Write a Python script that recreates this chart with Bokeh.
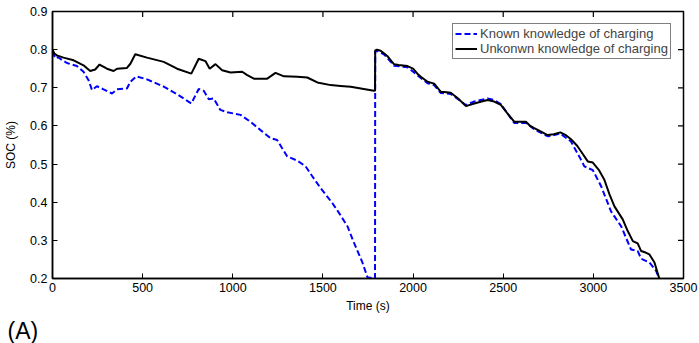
import math
from bokeh.plotting import figure
from bokeh.models import Range1d, FixedTicker, Legend, LegendItem, Title
from bokeh.embed import file_html
from bokeh.resources import INLINE

# ---- data ----
known_time = [0, 15, 30, 80, 135, 172, 200, 219, 246, 283, 330, 358, 413, 432, 465, 524,
              617, 691, 770, 811, 839, 867, 894, 931, 969, 1043, 1098, 1154, 1209, 1246,
              1302, 1358, 1404, 1441, 1487, 1552, 1589, 1636, 1672, 1719, 1747, 1789,
              1790, 1800, 1840, 1880, 1894, 1969, 2024, 2080, 2117, 2154, 2209, 2293,
              2340, 2413, 2450, 2487, 2561, 2626, 2672, 2746, 2765, 2817, 2876, 2932,
              2950, 2997, 3043, 3098, 3154, 3209, 3246, 3265, 3311, 3348, 3367]
known_soc = [0.795, 0.777, 0.780, 0.765, 0.757, 0.742, 0.720, 0.694, 0.704, 0.696, 0.685,
             0.696, 0.698, 0.716, 0.730, 0.722, 0.703, 0.683, 0.659, 0.697, 0.692, 0.670,
             0.672, 0.642, 0.636, 0.629, 0.611, 0.589, 0.568, 0.563, 0.520, 0.509, 0.494,
             0.468, 0.437, 0.398, 0.372, 0.337, 0.294, 0.242, 0.203, 0.200,
             0.795, 0.797, 0.787, 0.766, 0.758, 0.754, 0.733, 0.712, 0.707, 0.686, 0.684,
             0.655, 0.664, 0.672, 0.668, 0.657, 0.608, 0.608, 0.591, 0.573, 0.574, 0.580,
             0.559, 0.511, 0.494, 0.484, 0.442, 0.376, 0.337, 0.276, 0.272, 0.252, 0.242,
             0.220, 0.198]

unknown_time = [0, 10, 24, 61, 117, 172, 209, 237, 261, 302, 339, 358, 413, 432, 459, 524,
                617, 691, 770, 811, 848, 872, 904, 941, 987, 1052, 1080, 1117, 1191, 1237,
                1284, 1358, 1413, 1469, 1543, 1598, 1654, 1783, 1789,
                1790, 1800, 1820, 1840, 1860, 1880, 1894, 1920, 1969, 2000, 2024, 2043, 2080,
                2117, 2154, 2174, 2209, 2250, 2293, 2340, 2380, 2413, 2450, 2487, 2520, 2561,
                2600, 2626, 2650, 2672, 2710, 2746, 2780, 2817, 2850, 2876, 2910, 2932, 2969,
                2997, 3030, 3061, 3090, 3117, 3163, 3190, 3219, 3246, 3265, 3290, 3311, 3339,
                3367]
unknown_soc = [0.800, 0.790, 0.785, 0.779, 0.772, 0.759, 0.744, 0.748, 0.761, 0.750, 0.744,
               0.750, 0.752, 0.763, 0.788, 0.779, 0.768, 0.750, 0.737, 0.776, 0.770, 0.750,
               0.762, 0.746, 0.740, 0.742, 0.733, 0.724, 0.724, 0.739, 0.730, 0.729, 0.727,
               0.714, 0.707, 0.705, 0.703, 0.692, 0.692,
               0.798, 0.800, 0.797, 0.790, 0.782, 0.770, 0.762, 0.760, 0.757, 0.750, 0.737,
               0.729, 0.716, 0.711, 0.689, 0.689, 0.687, 0.672, 0.652, 0.659, 0.664, 0.668,
               0.664, 0.655, 0.635, 0.611, 0.611, 0.611, 0.600, 0.594, 0.585, 0.576, 0.578,
               0.583, 0.575, 0.565, 0.548, 0.533, 0.507, 0.504, 0.485, 0.459, 0.420, 0.389,
               0.355, 0.325, 0.298, 0.292, 0.272, 0.268, 0.263, 0.242, 0.198]

x_ticks = [0, 500, 1000, 1500, 2000, 2500, 3000, 3500]
y_ticks = [0.2, 0.3, 0.4, 0.5, 0.6, 0.7, 0.8, 0.9]
series_labels = ["Known knowledge of charging", "Unkonwn knowledge of charging"]
panel_tag = "(A)"

FONT = "Liberation Sans"

p = figure(width=699, height=343, output_backend="svg", toolbar_location=None,
           x_range=Range1d(x_ticks[0], x_ticks[-1]), y_range=Range1d(y_ticks[0], y_ticks[-1]),
           min_border_left=52, min_border_right=16, min_border_top=11, min_border_bottom=0,
           background_fill_color="white", border_fill_color="white")
p.outline_line_color = "black"
p.outline_line_width = 1.5
p.grid.visible = False

for ax, ticks in ((p.xaxis[0], x_ticks), (p.yaxis[0], y_ticks)):
    ax.ticker = FixedTicker(ticks=ticks)
    ax.axis_line_color = "black"
    ax.axis_line_width = 1.5
    ax.major_tick_in = 5
    ax.major_tick_out = 0
    ax.major_tick_line_color = "black"
    ax.major_tick_line_width = 1
    ax.minor_tick_line_color = None
    ax.major_label_text_font = FONT
    ax.major_label_text_color = "black"
    ax.major_label_text_font_size = "12.5px"
    ax.axis_label_text_font = FONT
    ax.axis_label_text_font_size = "12px"
    ax.axis_label_text_font_style = "normal"
    ax.axis_label_text_color = "black"

p.xaxis[0].major_label_standoff = 4
p.yaxis[0].major_label_standoff = 5
p.xaxis[0].axis_label = "Time (s)"
p.yaxis[0].axis_label = "SOC (%)"
p.xaxis[0].axis_label_standoff = 4
p.yaxis[0].axis_label_standoff = 9

# inward ticks on the top and right edges of the box (half of each dash is clipped by the frame)
top_x = x_ticks[1:-1]
p.scatter(top_x, [y_ticks[-1]] * len(top_x), marker="dash", angle=math.pi / 2,
          size=11, line_color="black", line_width=1.2)
right_y = y_ticks[1:-1]
p.scatter([x_ticks[-1]] * len(right_y), right_y, marker="dash",
          size=11, line_color="black", line_width=1.2)

r_known = p.line(known_time, known_soc, line_color="#0000ff", line_width=2, line_dash="6 3")
r_unknown = p.line(unknown_time, unknown_soc, line_color="black", line_width=2)

legend = Legend(items=[LegendItem(label=series_labels[0], renderers=[r_known]),
                       LegendItem(label=series_labels[1], renderers=[r_unknown])],
                location=(400, 219), margin=0, padding=2, spacing=0,
                glyph_width=22, glyph_height=15, label_height=15, label_standoff=3,
                label_text_font=FONT, label_text_font_size="13px",
                border_line_color="black", border_line_width=1,
                background_fill_color="white", background_fill_alpha=1)
p.add_layout(legend)

tag = Title(text=panel_tag, align="left", offset=-45, standoff=0,
            text_font=FONT, text_font_size="23px", text_font_style="normal",
            text_color="black", text_line_height=1.0)
p.add_layout(tag, "below")

open("out.html", "w").write(file_html(p, INLINE))
